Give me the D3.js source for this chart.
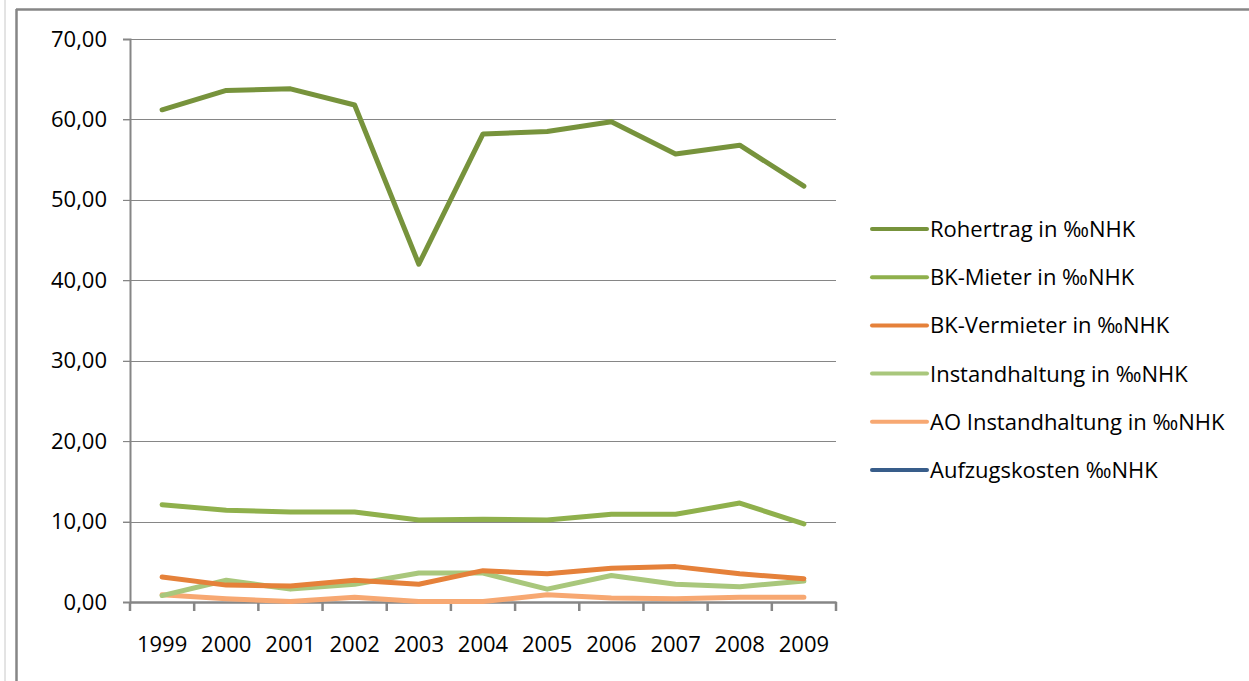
<!DOCTYPE html>
<html><head><meta charset="utf-8">
<script src="https://cdn.jsdelivr.net/npm/d3@7"></script>
<style>body{margin:0;background:#fff;}svg{display:block;font-family:"Open Sans",sans-serif;}</style>
</head><body><svg id="c" width="1249" height="681"></svg>
<script>
const years = ["1999","2000","2001","2002","2003","2004","2005","2006","2007","2008","2009"];
const yTicks = [0,10,20,30,40,50,60,70];
const rohertrag = [61.2,63.6,63.8,61.8,42.0,58.2,58.5,59.7,55.7,56.8,51.7];
const bkMieter = [12.1,11.4,11.2,11.2,10.2,10.3,10.2,10.9,10.9,12.3,9.7];
const bkVermieter = [3.1,2.1,2.0,2.7,2.2,3.9,3.5,4.2,4.4,3.5,2.9];
const instandhaltung = [0.8,2.7,1.6,2.2,3.6,3.6,1.6,3.3,2.2,1.9,2.6];
const aoInstandhaltung = [0.9,0.4,0.05,0.6,0.05,0.05,0.9,0.5,0.4,0.6,0.6];
const aufzugskosten = [null,null,null,null,null,null,null,null,null,null,null];
const seriesNames = ["Rohertrag in ‰NHK","BK-Mieter in ‰NHK","BK-Vermieter in ‰NHK","Instandhaltung in ‰NHK","AO Instandhaltung in ‰NHK","Aufzugskosten ‰NHK"];
const seriesColors = ["#77933C","#8FB04C","#E5813A","#A9C77C","#F7A872","#385D8A"];
const seriesData = [rohertrag,bkMieter,bkVermieter,instandhaltung,aoInstandhaltung,aufzugskosten];

const svg = d3.select("#c");
// frame
svg.append("line").attr("x1",5).attr("x2",5).attr("y1",0).attr("y2",681).attr("stroke","#c8c8c8").attr("stroke-width",1);
svg.append("line").attr("x1",16.5).attr("x2",16.5).attr("y1",9).attr("y2",681).attr("stroke","#868686").attr("stroke-width",2.5);
svg.append("line").attr("x1",16).attr("x2",1249).attr("y1",9.5).attr("y2",9.5).attr("stroke","#868686").attr("stroke-width",2.5);

const L=130, R=836, T=39, B=602;
const x = d3.scaleBand().domain(years).range([L,R]);
const y = d3.scaleLinear().domain([0,70]).range([B,T]);
const FS = "22px";

// gridlines
svg.append("g").selectAll("line").data(yTicks.filter(d=>d>0)).join("line")
  .attr("x1",L-7).attr("x2",R).attr("y1",d=>Math.round(y(d))+0.5).attr("y2",d=>Math.round(y(d))+0.5)
  .attr("stroke","#868686").attr("stroke-width",1);

// y axis
const yAxis = svg.append("g").attr("transform",`translate(${L},0)`)
  .call(d3.axisLeft(y).tickValues(yTicks).tickSize(7).tickFormat(d=>d3.format(".2f")(d).replace(".",",")));
yAxis.select(".domain").attr("stroke","#868686").attr("stroke-width",2);
yAxis.selectAll(".tick line").attr("stroke","#868686").attr("stroke-width",1);
yAxis.selectAll("text").attr("x",-23).attr("font-size",FS).attr("fill","#000").attr("font-family","Open Sans, sans-serif");

// x axis
const xAxis = svg.append("g").attr("transform",`translate(0,${B})`)
  .call(d3.axisBottom(x).tickSize(0));
xAxis.select(".domain").attr("stroke","#868686").attr("stroke-width",2.5);
xAxis.selectAll("text").attr("y",50).attr("dy","0").attr("font-size",FS).attr("fill","#000").attr("font-family","Open Sans, sans-serif");
const bounds = years.map(d=>x(d)).concat([R]);
svg.append("g").selectAll("line").data(bounds).join("line")
  .attr("x1",d=>d).attr("x2",d=>d).attr("y1",B).attr("y2",B+9)
  .attr("stroke","#868686").attr("stroke-width",2.5);

// lines
const line = d3.line().defined(d=>d!=null).x((d,i)=>x(years[i])+x.bandwidth()/2).y(d=>y(d));
const order = [4,3,2,1,0,5];
order.forEach(k=>{
  svg.append("path").datum(seriesData[k]).attr("d",line).attr("fill","none")
    .attr("stroke",seriesColors[k]).attr("stroke-width",5).attr("stroke-linejoin","round").attr("stroke-linecap","round");
});

// legend
const lg = svg.append("g");
seriesNames.forEach((n,i)=>{
  const yy = 229 + i*48.2;
  lg.append("line").attr("x1",872).attr("x2",927).attr("y1",yy).attr("y2",yy).attr("stroke",seriesColors[i]).attr("stroke-width",4).attr("stroke-linecap","round");
  lg.append("text").attr("x",930).attr("y",yy).attr("dy","0.36em").attr("font-size",FS).attr("fill","#000").text(n);
});
</script></body></html>
